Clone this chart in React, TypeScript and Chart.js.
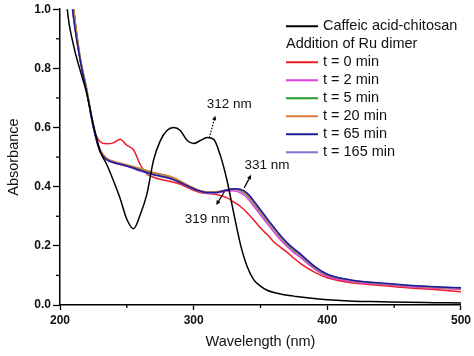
import React, { useEffect, useRef } from 'react';
import { Chart, registerables } from 'chart.js';

Chart.register(...registerables);

// ---------- data ----------
const WAVELENGTHS = [200, 205, 210, 215, 220, 225, 230, 235, 240, 245, 250, 255, 260, 265, 270, 275, 280, 285, 290, 295, 300, 305, 310, 315, 320, 325, 330, 335, 340, 345, 350, 355, 360, 365, 370, 375, 380, 390, 400, 420, 440, 460, 480, 500];

const CAFFEIC_CHITOSAN = [1.4, 1.02, 0.88, 0.795, 0.715, 0.61, 0.52, 0.475, 0.42, 0.36, 0.29, 0.258, 0.305, 0.375, 0.49, 0.555, 0.59, 0.6, 0.59, 0.557, 0.546, 0.556, 0.566, 0.56, 0.505, 0.42, 0.31, 0.205, 0.13, 0.085, 0.064, 0.05, 0.042, 0.037, 0.033, 0.03, 0.027, 0.022, 0.018, 0.013, 0.011, 0.009, 0.008, 0.007];
const T_0 = [1.5, 1.25, 1.01, 0.83, 0.725, 0.6, 0.552, 0.545, 0.548, 0.56, 0.54, 0.525, 0.475, 0.443, 0.432, 0.425, 0.42, 0.415, 0.408, 0.398, 0.388, 0.38, 0.377, 0.375, 0.37, 0.362, 0.348, 0.333, 0.312, 0.287, 0.26, 0.238, 0.213, 0.195, 0.178, 0.158, 0.14, 0.112, 0.092, 0.074, 0.066, 0.058, 0.052, 0.045];
const T_2 = [1.5, 1.25, 1.01, 0.835, 0.725, 0.6, 0.52, 0.492, 0.481, 0.475, 0.469, 0.461, 0.453, 0.446, 0.44, 0.435, 0.43, 0.423, 0.413, 0.402, 0.392, 0.384, 0.379, 0.379, 0.381, 0.385, 0.386, 0.379, 0.362, 0.334, 0.304, 0.275, 0.247, 0.22, 0.197, 0.177, 0.16, 0.123, 0.097, 0.078, 0.069, 0.062, 0.057, 0.053];
const T_5 = [1.5, 1.25, 1.01, 0.84, 0.73, 0.605, 0.525, 0.495, 0.484, 0.478, 0.472, 0.466, 0.46, 0.453, 0.447, 0.442, 0.437, 0.429, 0.418, 0.406, 0.395, 0.386, 0.381, 0.381, 0.384, 0.389, 0.391, 0.386, 0.37, 0.343, 0.313, 0.284, 0.256, 0.228, 0.204, 0.184, 0.167, 0.128, 0.101, 0.081, 0.072, 0.065, 0.06, 0.056];
const T_20 = [1.5, 1.25, 1.01, 0.84, 0.73, 0.605, 0.526, 0.496, 0.486, 0.48, 0.474, 0.468, 0.462, 0.455, 0.448, 0.443, 0.438, 0.43, 0.419, 0.407, 0.396, 0.387, 0.382, 0.382, 0.385, 0.39, 0.392, 0.388, 0.373, 0.346, 0.316, 0.287, 0.258, 0.23, 0.206, 0.186, 0.169, 0.13, 0.102, 0.081, 0.072, 0.065, 0.059, 0.055];
const T_65 = [1.5, 1.2, 0.975, 0.83, 0.72, 0.6, 0.518, 0.492, 0.482, 0.476, 0.47, 0.463, 0.455, 0.448, 0.441, 0.436, 0.431, 0.424, 0.414, 0.403, 0.393, 0.385, 0.38, 0.38, 0.383, 0.389, 0.393, 0.391, 0.378, 0.352, 0.322, 0.292, 0.263, 0.235, 0.21, 0.19, 0.172, 0.132, 0.104, 0.083, 0.074, 0.067, 0.062, 0.058];
const T_165 = [1.5, 1.2, 0.975, 0.83, 0.72, 0.6, 0.519, 0.49, 0.481, 0.476, 0.47, 0.462, 0.454, 0.447, 0.44, 0.435, 0.43, 0.423, 0.413, 0.402, 0.392, 0.384, 0.379, 0.379, 0.382, 0.388, 0.392, 0.39, 0.376, 0.35, 0.32, 0.29, 0.261, 0.233, 0.208, 0.188, 0.17, 0.131, 0.103, 0.082, 0.073, 0.066, 0.061, 0.057];

const SERIES_LABELS = ['Caffeic acid-chitosan', 't = 0 min', 't = 2 min', 't = 5 min', 't = 20 min', 't = 65 min', 't = 165 min'];
const SERIES_VALUES = [CAFFEIC_CHITOSAN, T_0, T_2, T_5, T_20, T_65, T_165];
const SERIES_COLORS = ['#000000', '#ee1c24', '#e23ce2', '#2a9a2a', '#d97a3c', '#1c1c96', '#8a70d0'];
const SERIES_ORDER = [0, 6, 5, 4, 3, 1, 2];
const LEGEND_HEADER = 'Addition of Ru dimer';

const X_MIN = 200;
const X_MAX = 500;
const X_STEP = 50;
const X_LABEL_EVERY = 100;
const Y_MIN = 0;
const Y_MAX = 1;
const Y_STEP = 0.1;

const ANNOT_LABELS = ['312 nm', '331 nm', '319 nm'];
const ANNOT_TEXT_X = [326.6, 354.9, 310.2];
const ANNOT_TEXT_Y = [0.68, 0.474, 0.291];
const ANNOT_FROM_X = [311.7, 337.8, 322.9];
const ANNOT_FROM_Y = [0.565, 0.396, 0.382];
const ANNOT_TIP_X = [316.2, 343, 316.9];
const ANNOT_TIP_Y = [0.64, 0.44, 0.338];
const ANNOT_DOTTED = [true, false, false];

const FONT = '"Liberation Sans", Arial, sans-serif';

const isMajorY = (v: number) => Math.round(v * 10) % 2 === 0;
const isMajorX = (v: number) => Math.round(v) % X_LABEL_EVERY === 0;

const minorTicksPlugin = {
  id: 'minorTicks',
  afterDraw(chart: any) {
    const { ctx, scales } = chart;
    const xs = scales.x;
    const ys = scales.y;
    ctx.save();
    ctx.strokeStyle = '#000';
    ctx.lineWidth = 1.3;
    ys.ticks.forEach((t: any) => {
      if (!isMajorY(t.value)) {
        const y = ys.getPixelForValue(t.value);
        ctx.beginPath();
        ctx.moveTo(ys.right - 4, y);
        ctx.lineTo(ys.right, y);
        ctx.stroke();
      }
    });
    xs.ticks.forEach((t: any) => {
      if (!isMajorX(t.value)) {
        const x = xs.getPixelForValue(t.value);
        ctx.beginPath();
        ctx.moveTo(x, xs.top);
        ctx.lineTo(x, xs.top + 3);
        ctx.stroke();
      }
    });
    ctx.restore();
  },
};

const legendPlugin = {
  id: 'customLegend',
  afterDraw(chart: any) {
    const { ctx, chartArea } = chart;
    const lineStart = chartArea.right - 175;
    const lineEnd = chartArea.right - 143;
    const textX = chartArea.right - 138;
    const firstY = chartArea.top + 17;
    const rowH = 18;
    ctx.save();
    ctx.font = `14.5px ${FONT}`;
    ctx.textBaseline = 'middle';
    ctx.textAlign = 'left';
    ctx.fillStyle = '#111';
    const rows: any[] = [];
    rows.push({ label: SERIES_LABELS[0], color: SERIES_COLORS[0] });
    rows.push({ header: LEGEND_HEADER });
    for (let i = 1; i < SERIES_LABELS.length; i++) rows.push({ label: SERIES_LABELS[i], color: SERIES_COLORS[i] });
    rows.forEach((r, i) => {
      const y = firstY + i * rowH;
      if (r.header) {
        ctx.fillStyle = '#111';
        ctx.fillText(r.header, lineStart, y);
        return;
      }
      ctx.strokeStyle = r.color;
      ctx.lineWidth = 2;
      ctx.beginPath();
      ctx.moveTo(lineStart, y);
      ctx.lineTo(lineEnd, y);
      ctx.stroke();
      ctx.fillStyle = '#111';
      ctx.fillText(r.label, textX, y);
    });
    ctx.restore();
  },
};

const annotationPlugin = {
  id: 'peakAnnotations',
  afterDatasetsDraw(chart: any) {
    const { ctx, scales } = chart;
    const xs = scales.x;
    const ys = scales.y;
    ctx.save();
    ctx.font = `13.5px ${FONT}`;
    ctx.textAlign = 'center';
    ctx.textBaseline = 'middle';
    ANNOT_LABELS.forEach((label, i) => {
      const fx = xs.getPixelForValue(ANNOT_FROM_X[i]);
      const fy = ys.getPixelForValue(ANNOT_FROM_Y[i]);
      const tx = xs.getPixelForValue(ANNOT_TIP_X[i]);
      const ty = ys.getPixelForValue(ANNOT_TIP_Y[i]);
      const ang = Math.atan2(ty - fy, tx - fx);
      const head = 5;
      ctx.strokeStyle = '#000';
      ctx.fillStyle = '#000';
      ctx.lineWidth = 1.2;
      ctx.setLineDash(ANNOT_DOTTED[i] ? [1.5, 1.5] : []);
      ctx.beginPath();
      ctx.moveTo(fx, fy);
      ctx.lineTo(tx - Math.cos(ang) * head * 0.8, ty - Math.sin(ang) * head * 0.8);
      ctx.stroke();
      ctx.setLineDash([]);
      ctx.beginPath();
      ctx.moveTo(tx, ty);
      ctx.lineTo(tx - head * Math.cos(ang - 0.45), ty - head * Math.sin(ang - 0.45));
      ctx.lineTo(tx - head * Math.cos(ang + 0.45), ty - head * Math.sin(ang + 0.45));
      ctx.closePath();
      ctx.fill();
      ctx.fillStyle = '#111';
      ctx.fillText(label, xs.getPixelForValue(ANNOT_TEXT_X[i]), ys.getPixelForValue(ANNOT_TEXT_Y[i]));
    });
    ctx.restore();
  },
};

export default function App() {
  const canvasRef = useRef<HTMLCanvasElement | null>(null);

  useEffect(() => {
    const canvas = canvasRef.current;
    if (!canvas) return;
    const datasets = SERIES_LABELS.map((label, i) => ({
      label,
      data: WAVELENGTHS.map((w, j) => ({ x: w, y: SERIES_VALUES[i][j] })),
      borderColor: SERIES_COLORS[i],
      backgroundColor: SERIES_COLORS[i],
      borderWidth: 1.5,
      pointRadius: 0,
      fill: false,
      cubicInterpolationMode: 'monotone' as const,
      order: SERIES_ORDER[i],
    }));
    const chart = new Chart(canvas, {
      type: 'line',
      data: { datasets },
      options: {
        animation: false,
        responsive: false,
        maintainAspectRatio: false,
        layout: { padding: { top: 9, right: 11, left: 0, bottom: 0 } },
        plugins: {
          legend: { display: false },
          tooltip: { enabled: false },
        },
        scales: {
          x: {
            type: 'linear',
            min: X_MIN,
            max: X_MAX,
            afterFit: (s: any) => { s.height = 51; },
            border: { display: true, color: '#000', width: 1.5 },
            grid: {
              drawOnChartArea: false,
              drawTicks: true,
              tickLength: 5,
              tickWidth: 1.3,
              tickColor: (c: any) => (c.tick && isMajorX(c.tick.value) ? '#000' : 'rgba(0,0,0,0)'),
            },
            ticks: {
              stepSize: X_STEP,
              padding: 3,
              maxRotation: 0,
              autoSkip: false,
              color: '#111',
              font: { family: FONT, size: 12, weight: 'bold' },
              callback: (v: any) => (isMajorX(Number(v)) ? String(v) : ''),
            },
            title: {
              display: true,
              text: 'Wavelength (nm)',
              color: '#111',
              font: { family: FONT, size: 14.5 },
              padding: { top: 0, bottom: 5 },
            },
          },
          y: {
            type: 'linear',
            min: Y_MIN,
            max: Y_MAX,
            afterFit: (s: any) => { s.width = 60; },
            border: { display: true, color: '#000', width: 1.5 },
            grid: {
              drawOnChartArea: false,
              drawTicks: true,
              tickLength: 7,
              tickWidth: 1.3,
              tickColor: (c: any) => (c.tick && isMajorY(c.tick.value) ? '#000' : 'rgba(0,0,0,0)'),
            },
            ticks: {
              stepSize: Y_STEP,
              padding: 2,
              autoSkip: false,
              color: '#111',
              font: { family: FONT, size: 12, weight: 'bold' },
              callback: (v: any) => (isMajorY(Number(v)) ? Number(v).toFixed(1) : ''),
            },
            title: {
              display: true,
              text: 'Absorbance',
              color: '#111',
              font: { family: FONT, size: 14.5 },
              padding: { top: 5, bottom: 0 },
            },
          },
        },
      },
      plugins: [minorTicksPlugin, annotationPlugin, legendPlugin],
    });
    return () => chart.destroy();
  }, []);

  return (
    <div style={{ position: 'fixed', left: 0, top: 0, width: 474, height: 356, background: '#fff' }}>
      <canvas ref={canvasRef} width={474} height={356} style={{ width: 474, height: 356, display: 'block' }} />
    </div>
  );
}
